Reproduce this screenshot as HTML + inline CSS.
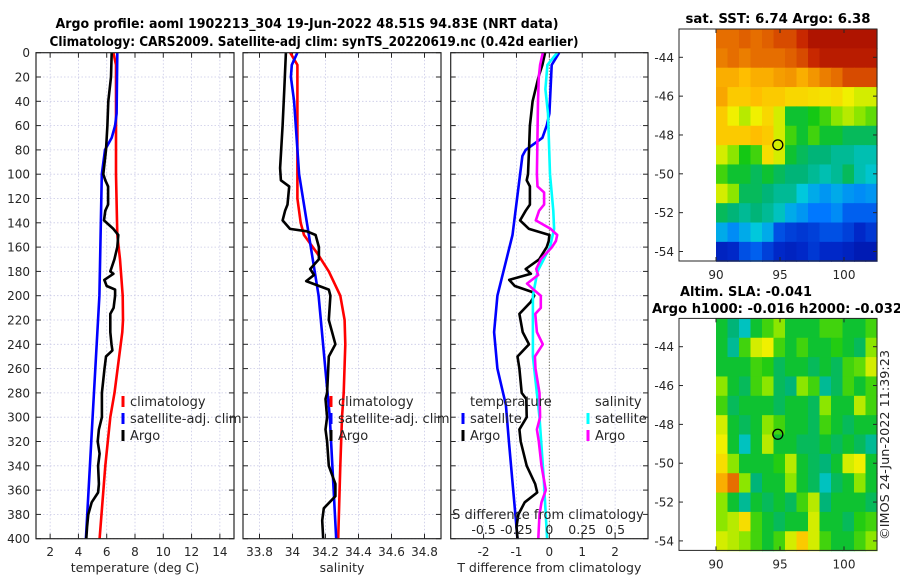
<!DOCTYPE html>
<html><head><meta charset="utf-8"><style>
html,body{margin:0;padding:0;background:#fff;width:900px;height:580px;overflow:hidden}
svg{display:block;font-family:"DejaVu Sans","Liberation Sans",sans-serif}
</style></head><body>
<svg id="fig" width="900" height="580" viewBox="0 0 900 580" xmlns="http://www.w3.org/2000/svg">
<text x="307" y="28" text-anchor="middle" font-weight="bold" font-size="13" textLength="503" lengthAdjust="spacingAndGlyphs" fill="#000">Argo profile: aoml 1902213_304 19-Jun-2022 48.51S 94.83E (NRT data)</text>
<text x="314" y="46" text-anchor="middle" font-weight="bold" font-size="13" textLength="529" lengthAdjust="spacingAndGlyphs" fill="#000">Climatology: CARS2009. Satellite-adj clim: synTS_20220619.nc (0.42d earlier)</text>
<text x="778" y="23" text-anchor="middle" font-weight="bold" font-size="13" textLength="185" lengthAdjust="spacingAndGlyphs">sat. SST: 6.74 Argo: 6.38</text>
<text x="680" y="296" font-weight="bold" font-size="13" textLength="132" lengthAdjust="spacingAndGlyphs">Altim. SLA: -0.041</text>
<text x="652" y="313" font-weight="bold" font-size="13" textLength="250" lengthAdjust="spacingAndGlyphs">Argo h1000: -0.016 h2000: -0.032</text>
<text transform="translate(889,445) rotate(-90)" text-anchor="middle" font-size="12" fill="#262626" textLength="190" lengthAdjust="spacingAndGlyphs">©IMOS 24-Jun-2022 11:39:23</text>
</svg>
<script>
// ---------- data ----------
const depthTicks=[0,20,40,60,80,100,120,140,160,180,200,220,240,260,280,300,320,340,360,380,400];
const tempTicks=[2,4,6,8,10,12,14];
const salTicks=[33.8,34,34.2,34.4,34.6,34.8];
const salTickLabels=["33.8","34","34.2","34.4","34.6","34.8"];
const tdiffTicks=[-2,-1,0,1,2];
const sdiffTicks=[-0.5,-0.25,0,0.25,0.5];
const sdiffTickLabels=["-0.5","-0.25","0","0.25","0.5"];

const argoTDepth=[0,20,40,60,80,100,105,110,125,130,138,145,150,160,170,180,182,187,192,195,200,210,215,230,240,245,250,260,280,300,310,320,330,340,355,362,370,380,390,400];
const argoT=[6.35,6.3,6.11,6.05,5.95,5.76,5.9,6.1,6.1,5.9,5.81,6.47,6.82,6.75,6.54,6.25,6.47,5.83,6.0,6.59,6.59,6.49,6.25,6.25,6.34,6.4,5.95,5.84,5.66,5.66,5.45,5.36,5.5,5.39,5.45,5.39,4.94,4.7,4.61,4.56];
const satTDepth=[0,50,60,70,80,100,200,300,400];
const satT=[6.75,6.7,6.59,6.35,5.88,5.65,5.48,5.0,4.53];
const climTDepth=[0,10,100,150,170,200,220,230,280,300,340,400];
const climT=[6.47,6.66,6.66,6.75,6.94,7.13,7.15,7.1,6.55,6.25,5.9,5.5];

const argoSDepth=[0,30,60,95,105,110,125,130,138,145,147,150,160,170,178,183,188,195,200,220,240,250,280,285,300,310,320,340,355,365,375,385,400];
const argoS=[33.96,33.95,33.94,33.925,33.93,33.98,33.97,33.955,33.94,33.985,34.087,34.14,34.16,34.16,34.107,34.13,34.083,34.22,34.23,34.22,34.26,34.22,34.21,34.2,34.21,34.2,34.21,34.22,34.26,34.26,34.19,34.18,34.186];
const satSDepth=[0,10,20,40,100,200,300,400];
const satS=[34.03,33.996,33.99,34.01,34.04,34.158,34.226,34.265];
const climSDepth=[0,10,30,120,140,150,165,180,200,220,240,280,300,340,400];
const climS=[33.986,34.03,34.03,34.03,34.05,34.07,34.15,34.22,34.29,34.316,34.32,34.31,34.3,34.29,34.277];

const satDTDepth=[0,10,50,60,70,80,85,100,150,200,230,260,290,320,360,400];
const satDT=[0.3,0.07,0,-0.08,-0.21,-0.72,-0.82,-0.89,-1.12,-1.58,-1.68,-1.58,-1.32,-1.23,-1.1,-0.97];
const argoDTDepth=[0,10,20,40,60,80,100,105,110,125,130,138,145,150,155,160,170,178,182,187,192,197,200,205,215,230,240,250,260,280,285,300,310,320,340,355,362,370,380,390,400];
const argoDT=[-0.13,-0.21,-0.33,-0.51,-0.59,-0.62,-0.65,-0.69,-0.59,-0.59,-0.72,-0.89,-0.62,0,-0.02,-0.08,-0.31,-0.72,-0.56,-1.22,-1.05,-0.51,-0.46,-0.56,-0.91,-0.81,-0.62,-0.97,-0.91,-0.84,-0.7,-0.69,-0.91,-0.87,-0.69,-0.43,-0.37,-0.75,-0.94,-1.0,-0.97];
const satDSDepth=[0,10,30,50,100,130,145,160,180,200,250,300,350,400];
const satDS=[0.06,-0.015,-0.03,-0.01,0.005,0.03,0.036,0.005,-0.09,-0.125,-0.125,-0.075,-0.043,-0.017];
const argoDSDepth=[0,10,20,40,100,110,115,125,130,138,145,150,155,160,170,178,183,190,195,200,210,215,230,240,250,260,280,300,310,320,340,360,370,380,400];
const argoDS=[-0.05,-0.07,-0.08,-0.086,-0.095,-0.09,-0.04,-0.04,-0.078,-0.103,0.01,0.06,0.05,0.02,-0.065,-0.1,-0.085,-0.17,-0.12,-0.065,-0.065,-0.107,-0.095,-0.05,-0.11,-0.105,-0.075,-0.07,-0.095,-0.08,-0.06,-0.027,-0.06,-0.075,-0.084];

const lonTicks=[90,95,100];
const latTicks=[-44,-46,-48,-50,-52,-54];
const argoLon=94.83, argoLat=-48.51;
const sstGrid=[
[0.8,0.8,0.82,0.8,0.82,0.85,0.85,0.9,0.95,0.95,0.95,0.95,0.95,0.95],
[0.78,0.8,0.78,0.8,0.8,0.8,0.82,0.85,0.9,0.93,0.93,0.93,0.93,0.93],
[0.72,0.72,0.7,0.72,0.72,0.74,0.75,0.72,0.75,0.78,0.8,0.85,0.85,0.85],
[0.73,0.68,0.68,0.7,0.68,0.68,0.66,0.66,0.65,0.64,0.65,0.62,0.6,0.6],
[0.68,0.62,0.58,0.62,0.66,0.6,0.45,0.45,0.47,0.5,0.55,0.58,0.55,0.52],
[0.68,0.68,0.68,0.7,0.68,0.6,0.5,0.45,0.5,0.45,0.45,0.42,0.42,0.42],
[0.6,0.55,0.47,0.5,0.65,0.6,0.45,0.42,0.4,0.4,0.38,0.38,0.36,0.36],
[0.5,0.45,0.45,0.42,0.45,0.42,0.4,0.4,0.38,0.36,0.38,0.42,0.36,0.34],
[0.6,0.55,0.42,0.42,0.4,0.38,0.38,0.33,0.3,0.28,0.3,0.28,0.27,0.28],
[0.42,0.4,0.38,0.4,0.38,0.35,0.3,0.28,0.25,0.25,0.27,0.22,0.22,0.22],
[0.3,0.27,0.3,0.33,0.3,0.2,0.18,0.17,0.18,0.2,0.2,0.18,0.15,0.17],
[0.13,0.15,0.2,0.22,0.18,0.15,0.13,0.15,0.17,0.15,0.15,0.13,0.1,0.1]];
const slaGrid=[
[0.45,0.4,0.35,0.45,0.5,0.55,0.45,0.45,0.45,0.5,0.5,0.45,0.45,0.5],
[0.45,0.38,0.5,0.6,0.62,0.5,0.45,0.5,0.45,0.45,0.48,0.45,0.42,0.55],
[0.45,0.45,0.45,0.5,0.48,0.42,0.45,0.45,0.42,0.45,0.42,0.5,0.52,0.6],
[0.55,0.45,0.42,0.5,0.55,0.42,0.4,0.55,0.5,0.38,0.42,0.5,0.45,0.5],
[0.5,0.42,0.45,0.45,0.45,0.42,0.45,0.45,0.42,0.55,0.45,0.45,0.58,0.5],
[0.6,0.45,0.42,0.45,0.55,0.5,0.45,0.45,0.42,0.5,0.45,0.42,0.45,0.45],
[0.62,0.45,0.35,0.45,0.58,0.45,0.45,0.42,0.42,0.45,0.42,0.45,0.42,0.38],
[0.65,0.55,0.45,0.45,0.45,0.48,0.58,0.45,0.42,0.4,0.45,0.6,0.62,0.45],
[0.72,0.8,0.55,0.4,0.45,0.45,0.55,0.45,0.42,0.35,0.42,0.45,0.55,0.45],
[0.55,0.45,0.38,0.45,0.42,0.45,0.42,0.5,0.58,0.4,0.45,0.45,0.45,0.42],
[0.55,0.58,0.65,0.5,0.45,0.42,0.45,0.45,0.6,0.45,0.45,0.42,0.48,0.5],
[0.6,0.58,0.55,0.5,0.45,0.5,0.6,0.68,0.6,0.5,0.45,0.45,0.5,0.55]];

// ---------- drawing ----------
const NS="http://www.w3.org/2000/svg";
const svg=document.getElementById('fig');
function mk(tag,attrs,parent){const e=document.createElementNS(NS,tag);for(const k in attrs)e.setAttribute(k,attrs[k]);(parent||svg).appendChild(e);return e;}
const TOP=52.7,BOT=538.7;
const yD=d=>TOP+(d/400)*(BOT-TOP);
function lin(d0,d1,r0,r1){return v=>r0+(v-d0)/(d1-d0)*(r1-r0);}

function panel(name,x0,x1,xs,ticks,labels,xlabel,showY){
  const g=mk('g',{});
  
  
  ticks.forEach(t=>{const gl=mk('line',{x1:xs(t),x2:xs(t),y1:TOP,y2:BOT,stroke:'#c9c9e6','stroke-width':0.8,'stroke-dasharray':'1.5,2'},g);
    });
  depthTicks.forEach(d=>{const gl=mk('line',{x1:x0,x2:x1,y1:yD(d),y2:yD(d),stroke:'#c9c9e6','stroke-width':0.8,'stroke-dasharray':'1.5,2'},g);
    
    mk('line',{x1:x0,x2:x0+5,y1:yD(d),y2:yD(d),stroke:'#262626'},g);
    mk('line',{x1:x1-5,x2:x1,y1:yD(d),y2:yD(d),stroke:'#262626'},g);
    if(showY){const t=mk('text',{x:x0-6,y:yD(d)+4.5,'text-anchor':'end','font-size':12,fill:'#262626'},g);t.textContent=d;
      }
  });
  ticks.forEach((t,i)=>{mk('line',{x1:xs(t),x2:xs(t),y1:BOT,y2:BOT-5,stroke:'#262626'},g);
    mk('line',{x1:xs(t),x2:xs(t),y1:TOP,y2:TOP+5,stroke:'#262626'},g);
    const tl=mk('text',{x:xs(t),y:556,'text-anchor':'middle','font-size':12,fill:'#262626'},g);tl.textContent=labels[i];
    });
  const xl=mk('text',{x:(x0+x1)/2,y:572,'text-anchor':'middle','font-size':12.5,fill:'#262626'},g);xl.textContent=xlabel;
  
  return g;
}
function frame(g,x0,x1){const r=mk('rect',{x:x0,y:TOP,width:x1-x0,height:BOT-TOP,fill:'none',stroke:'#262626','stroke-width':1.2},g);
  }
function line(g,xs,vals,depths,color,name){
  const pts=vals.map((v,i)=>xs(v).toFixed(1)+','+yD(depths[i]).toFixed(1)).join(' ');
  const p=mk('polyline',{points:pts,fill:'none',stroke:color,'stroke-width':2.6,'stroke-linejoin':'round'},g);
  
}
function legend(g,x,y,color,label,name){
  if(color){mk('line',{x1:x,x2:x,y1:y-10,y2:y+1,stroke:color,'stroke-width':3},g);}
  const t=mk('text',{x:x+7,y:y,'font-size':13,fill:'#262626'},g);t.textContent=label;
  
}

// Panel 1: temperature
const xT=lin(1,15,36,234);
const p1=panel('temperature-panel',36,234,xT,tempTicks,tempTicks.map(String),'temperature (deg C)',true);
line(p1,xT,climT,climTDepth,'#ff0000','climatology-temp-line');
line(p1,xT,satT,satTDepth,'#0000ff','satellite-temp-line');
line(p1,xT,argoT,argoTDepth,'#000000','argo-temp-line');
legend(p1,123,406,'#ff0000','climatology','legend-climatology');
legend(p1,123,423,'#0000ff','satellite-adj. clim','legend-satellite-adj');
legend(p1,123,440,'#000000','Argo','legend-argo');
frame(p1,36,234);

// Panel 2: salinity
const xS=lin(33.7,34.9,243,441);
const p2=panel('salinity-panel',243,441,xS,salTicks,salTickLabels,'salinity',false);
line(p2,xS,climS,climSDepth,'#ff0000','climatology-sal-line');
line(p2,xS,satS,satSDepth,'#0000ff','satellite-sal-line');
line(p2,xS,argoS,argoSDepth,'#000000','argo-sal-line');
legend(p2,331,406,'#ff0000','climatology','legend-climatology-sal');
legend(p2,331,423,'#0000ff','satellite-adj. clim','legend-satellite-adj-sal');
legend(p2,331,440,'#000000','Argo','legend-argo-sal');
frame(p2,243,441);

// Panel 3: differences
const xDT=lin(-3,3,450.7,648);
const xDS=v=>xDT(v*4);
const p3=panel('difference-panel',450.7,648,xDT,tdiffTicks,tdiffTicks.map(String),'T difference from climatology',false);
const zl=mk('line',{x1:xDT(0),x2:xDT(0),y1:TOP,y2:BOT,stroke:'#5a5a3a','stroke-width':1,'stroke-dasharray':'1,2'},p3);

line(p3,xDT,satDT,satDTDepth,'#0000ff','satellite-tdiff-line');
line(p3,xDT,argoDT,argoDTDepth,'#000000','argo-tdiff-line');
line(p3,xDS,satDS,satDSDepth,'#00ffff','satellite-sdiff-line');
line(p3,xDS,argoDS,argoDSDepth,'#ff00ff','argo-sdiff-line');
legend(p3,463,406,null,'temperature','legend-temperature-header');
legend(p3,463,423,'#0000ff','satellite','legend-satellite-t');
legend(p3,463,440,'#000000','Argo','legend-argo-t');
legend(p3,588,406,null,'salinity','legend-salinity-header');
legend(p3,588,423,'#00ffff','satellite','legend-satellite-s');
legend(p3,588,440,'#ff00ff','Argo','legend-argo-s');
const st=mk('text',{x:548,y:519,'text-anchor':'middle','font-size':13,fill:'#262626'},p3);st.textContent='S difference from climatology';

sdiffTicks.forEach((t,i)=>{const tl=mk('text',{x:xDS(t),y:534,'text-anchor':'middle','font-size':12.5,fill:'#262626'},p3);tl.textContent=sdiffTickLabels[i];
  });
frame(p3,450.7,648);

// colormap (approximation of the reference palette)
const cmapStops=[[0,0,0,140],[0.15,0,40,200],[0.25,0,120,255],[0.33,0,200,220],[0.4,0,180,120],[0.47,20,200,20],[0.55,140,230,0],[0.62,240,240,0],[0.7,255,190,0],[0.8,230,110,0],[0.9,200,40,0],[1,150,0,0]];
function cmap(v){v=Math.max(0,Math.min(1,v));
  for(let i=1;i<cmapStops.length;i++){const a=cmapStops[i-1],b=cmapStops[i];
    if(v<=b[0]){const f=(v-a[0])/(b[0]-a[0]);
      return `rgb(${Math.round(a[1]+f*(b[1]-a[1]))},${Math.round(a[2]+f*(b[2]-a[2]))},${Math.round(a[3]+f*(b[3]-a[3]))})`;}}
  return 'rgb(150,0,0)';}

function map(name,grid,yoff){
  const g=mk('g',{});
  
  const bx0=679,bx1=877,by0=29+yoff,by1=261+yoff;
  const xL=lin(90,100,716,844);
  const yL=lin(-44,-54,57.3+yoff,251.5+yoff);
  const lonMax=(bx1-716)/12.8+90, latMin=-54.5;
  const rows=grid.length,cols=grid[0].length;
  const latTop=-44+(57.3+yoff-by0)/19.42;
  mk('rect',{x:bx0,y:by0,width:bx1-bx0,height:by1-by0,fill:'#fff'},g);
  for(let r=0;r<rows;r++)for(let c=0;c<cols;c++){
    const lo0=90+c*(lonMax-90)/cols, lo1=90+(c+1)*(lonMax-90)/cols;
    const la0=latTop-r*(latTop-latMin)/rows, la1=latTop-(r+1)*(latTop-latMin)/rows;
    const cell=mk('rect',{x:xL(lo0),y:yL(la0),width:xL(lo1)-xL(lo0)+0.6,height:yL(la1)-yL(la0)+0.6,fill:cmap(grid[r][c])},g);
    
  }
  mk('rect',{x:bx0,y:by0,width:bx1-bx0,height:by1-by0,fill:'none',stroke:'#262626','stroke-width':1},g);
  lonTicks.forEach(t=>{mk('line',{x1:xL(t),x2:xL(t),y1:by1,y2:by1-4,stroke:'#262626'},g);mk('line',{x1:xL(t),x2:xL(t),y1:by0,y2:by0+4,stroke:'#262626'},g);
    const tl=mk('text',{x:xL(t),y:by1+18,'text-anchor':'middle','font-size':12,fill:'#262626'},g);tl.textContent=t;
    });
  latTicks.forEach(t=>{mk('line',{x1:bx0,x2:bx0+4,y1:yL(t),y2:yL(t),stroke:'#262626'},g);mk('line',{x1:bx1,x2:bx1-4,y1:yL(t),y2:yL(t),stroke:'#262626'},g);
    const tl=mk('text',{x:bx0-5,y:yL(t)+4.5,'text-anchor':'end','font-size':12,fill:'#262626'},g);tl.textContent=t;
    });
  const m=mk('circle',{cx:xL(argoLon),cy:yL(argoLat),r:5,fill:'none',stroke:'#000','stroke-width':1.3},g);
  
}
map('sst-map',sstGrid,0);
map('sla-map',slaGrid,289.4);
</script>
</body></html>
